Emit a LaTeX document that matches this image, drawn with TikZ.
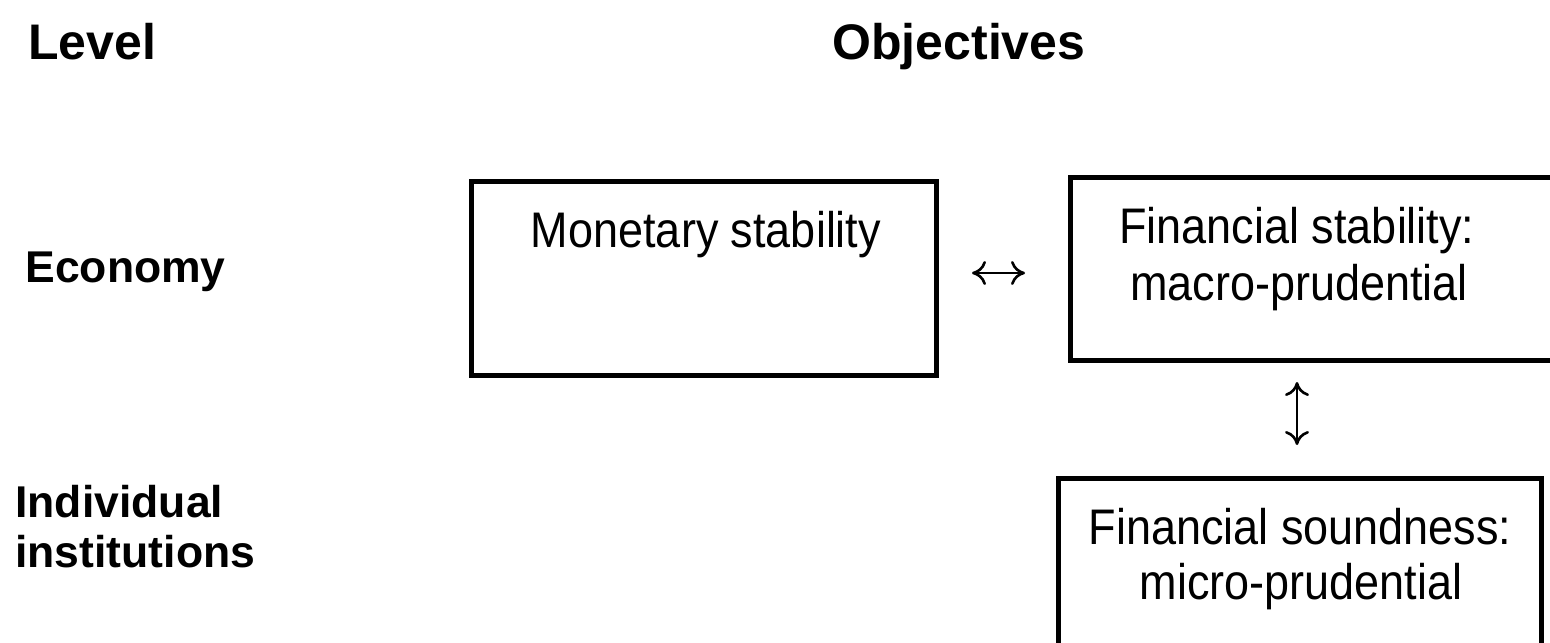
\documentclass[tikz,border=0pt]{standalone}
\usepackage{fontspec}
\setmainfont{Liberation Sans}
\newfontfamily\narrowfont[FakeStretch=0.9]{Liberation Sans}
\usetikzlibrary{arrows.meta,calc}
\begin{document}
\begin{tikzpicture}[x=0.5pt,y=-0.5pt,
  box/.style={draw, line width=2.5pt, inner sep=0pt, outer sep=0pt, anchor=north west},
  txt/.style={inner sep=0pt, anchor=base, font=\narrowfont\fontsize{25}{30}\selectfont},
  head/.style={inner sep=0pt, anchor=base west, font=\fontsize{22.25}{28}\selectfont\bfseries},
  bighead/.style={head, font=\fontsize{25}{30}\selectfont\bfseries},
  dbl/.style={line width=1.3pt, {Computer Modern Rightarrow[length=7pt,width=12pt]}-{Computer Modern Rightarrow[length=7pt,width=12pt]}}]
\useasboundingbox (0,0) rectangle (1550,642);
\clip (0,0) rectangle (1550,642);
\fill[white] (0,0) rectangle (1550,642);
\node[box, minimum width=232.5pt, minimum height=97pt] (mon) at (471.5,181.5) {};
\node[box, minimum width=254.75pt, minimum height=91.5pt] (stab) at (1070.5,177.5) {};
\node[box, minimum width=241.5pt, minimum height=111pt] (sound) at (1058,478) {};
\node[txt] (montxt) at (706,247) {Monetary stability};
\node[txt] (stab1) at (1297,243) {Financial stability:};
\node[txt] (stab2) at (1299,300) {macro-prudential};
\node[txt] (sound1) at (1300,544) {Financial soundness:};
\node[txt] (sound2) at (1301,599) {micro-prudential};
\node[bighead] (level) at (28,60) {Level};
\node[bighead] (obj) at (832,60) {Objectives};
\node[head] (econ) at (25,282) {Economy};
\node[head] (indiv1) at (15,517) {Individual};
\node[head] (indiv2) at (15,567) {institutions};
\coordinate (ay) at (0,273);
\draw[dbl, shorten <=17.75pt, shorten >=22.75pt] (mon.east |- ay) -- (stab.west |- ay);
\draw[dbl, shorten <=10.75pt, shorten >=16.5pt] (stab1 |- stab.south) -- (stab1 |- sound.north);
\end{tikzpicture}
\end{document}
